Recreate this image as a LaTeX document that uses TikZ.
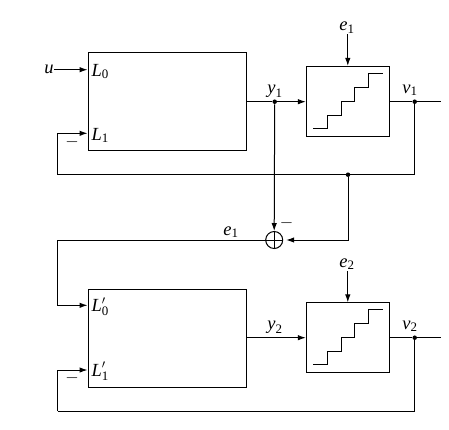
\documentclass[tikz,border=0pt]{standalone}
\usepackage{amsmath}
\usepackage{fontspec}
\setmainfont{Liberation Serif}
\usetikzlibrary{arrows.meta}
\newcommand{\lab}[2]{$\textit{#1}_{\textrm{#2}}$}
\newcommand{\labp}[2]{$\textit{#1}'_{\textrm{#2}}$}
\begin{document}
\begin{tikzpicture}[x=1pt,y=-1pt,line width=1pt,
  arr/.style={-{Latex[length=8pt,width=5.5pt]}},
  blk/.style={draw,rectangle,inner sep=0pt,minimum width=158pt,minimum height=97.6pt},
  qbox/.style={draw,rectangle,inner sep=0pt,minimum width=83pt,minimum height=69.7pt},
  lbl/.style={inner sep=0pt,font={\fontsize{18.5}{18.5}\selectfont}},
  dot/.style={circle,fill,inner sep=0pt,minimum size=4.5pt},
  sumc/.style={draw,circle,inner sep=0pt,minimum size=17pt}]
\useasboundingbox (0,0) rectangle (449,429);

% ---------- upper loop ----------
\node[blk] (B1) at (167,101.5) {};
\node[qbox] (Q1) at (347.8,101.2) {};
\draw (313.3,128.3) -- (327.3,128.3) -- (327.3,115.3) -- (341,115.3) -- (341,101.7)
  -- (354.7,101.7) -- (354.7,87.7) -- (368.7,87.7) -- (368.7,73.7) -- (382.7,73.7);

\node[lbl,anchor=east] (u) at (54,69.7) {\textit{u}};
\node[lbl,anchor=base west] (L0) at (91,76) {\lab{L}{0}};
\node[lbl,anchor=base west] (L1) at (91,140) {\lab{L}{1}};
\node[lbl] (m1) at (72,142.5) {$-$};
\node[lbl,anchor=base] (y1) at (275,93) {\lab{y}{1}};
\node[lbl,anchor=base] (v1) at (410,93) {\lab{v}{1}};
\node[lbl,anchor=base] (e1t) at (347,30.5) {\lab{e}{1}};

\node[dot] (d1) at (274.7,101.7) {};
\node[dot] (dv1) at (414.7,101.7) {};
\node[dot] (dfb) at (348,174.7) {};
\coordinate (o1) at (441,101.7);
\coordinate (fbL) at (57.7,174.7);
\coordinate (fbR) at (414.7,174.7);

\draw[arr] (u.east) -- (B1.west |- u.east);
\draw (B1.east |- d1) -- (d1);
\draw[arr] (d1) -- (Q1.west |- d1);
\draw (Q1.east |- dv1) -- (dv1) -- (o1);
\draw[arr] (347.8,34) -- (Q1.north);
\draw (dv1) -- (fbR) -- (fbL);
\draw[arr] (fbL) -- (57.7,133.3) -- (B1.west |- 0,133.3);

% ---------- summing junction ----------
\node[sumc] (S) at (274.2,240) {};
\draw (S.north) -- (S.south) (S.west) -- (S.east);
\node[lbl] (m2) at (286.7,223.3) {$-$};
\node[lbl,anchor=base] (e1m) at (231,235) {\lab{e}{1}};
\coordinate (sR) at (348,240);
\coordinate (sL) at (57.7,240);
\draw[arr] (d1) -- (S.north);
\draw[arr] (dfb) -- (sR) -- ([xshift=3pt]S.east);

% ---------- lower loop ----------
\node[blk] (B2) at (167,338.3) {};
\node[qbox] (Q2) at (347.8,337.7) {};
\draw (313.3,364.3) -- (327.3,364.3) -- (327.3,351.3) -- (341,351.3) -- (341,337.7)
  -- (354.7,337.7) -- (354.7,323.7) -- (368.7,323.7) -- (368.7,309.7) -- (382.7,309.7);

\node[lbl,anchor=base west] (L0p) at (91,311.5) {\labp{L}{0}};
\node[lbl,anchor=base west] (L1p) at (91,376) {\labp{L}{1}};
\node[lbl] (m3) at (72,378.5) {$-$};
\node[lbl,anchor=base] (y2) at (275,329) {\lab{y}{2}};
\node[lbl,anchor=base] (v2) at (410,329) {\lab{v}{2}};
\node[lbl,anchor=base] (e2t) at (347,267) {\lab{e}{2}};

\node[dot] (dv2) at (414.7,337.7) {};
\coordinate (o2) at (441,337.7);
\coordinate (fb2L) at (57.7,411.3);
\coordinate (fb2R) at (414.7,411.3);

\draw[arr] (S.west) -- (sL) -- (57.7,305.3) -- (B2.west |- 0,305.3);
\draw[arr] (B2.east |- dv2) -- (Q2.west |- dv2);
\draw (Q2.east |- dv2) -- (dv2) -- (o2);
\draw[arr] (347.8,271) -- (Q2.north);
\draw (dv2) -- (fb2R) -- (fb2L);
\draw[arr] (fb2L) -- (57.7,370) -- (B2.west |- 0,370);
\end{tikzpicture}
\end{document}
